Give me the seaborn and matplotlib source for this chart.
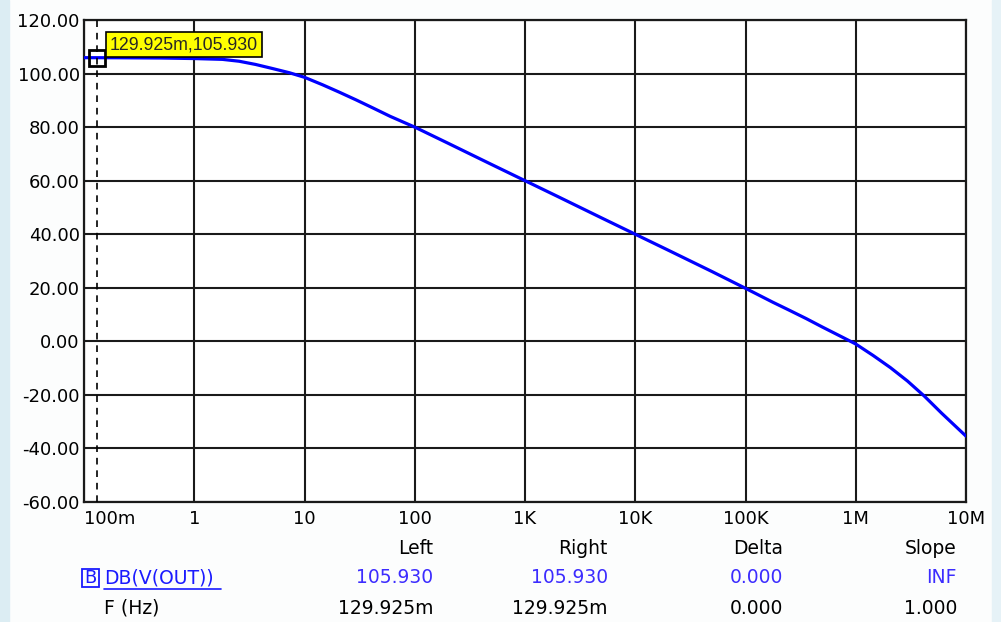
import numpy as np
import pandas as pd
import matplotlib
matplotlib.use("Agg")
import matplotlib.pyplot as plt
import seaborn as sns
from matplotlib.lines import Line2D
from matplotlib.patches import Rectangle

# ---- data ----
freq_hz = [0.1, 0.2, 0.5, 1, 1.8, 2.55, 3.6, 5.1, 7.3, 10, 14.6, 20.8, 29.6, 42, 60, 100,
           200, 500, 1e3, 2e3, 5e3, 1e4, 2e4, 5e4, 1e5, 1.77e5, 2.5e5, 3.55e5, 5e5, 7.2e5,
           1e6, 1.44e6, 2.06e6, 2.94e6, 4.2e6, 6e6, 1e7]
gain_db = [105.93, 105.9, 105.8, 105.6, 105.3, 104.6, 103.4, 101.9, 100.3, 98.6, 95.8, 93.0, 90.1, 87.1, 84.0, 80.0,
           74.0, 66.0, 60.0, 54.0, 46.0, 40.0, 34.0, 26.0, 19.8, 14.6, 11.6, 8.5, 5.3, 2.0,
           -1.0, -5.3, -9.8, -14.8, -20.5, -26.8, -35.4]
x_ticks = [0.1, 1, 10, 100, 1e3, 1e4, 1e5, 1e6, 1e7]
x_tick_labels = ["100m", "1", "10", "100", "1K", "10K", "100K", "1M", "10M"]
y_ticks = [-60, -40, -20, 0, 20, 40, 60, 80, 100, 120]
y_tick_labels = ["%.2f" % v for v in y_ticks]
cursor_f = 0.129925
cursor_db = 105.930
cursor_label = "129.925m,105.930"
table_headers = ["Left", "Right", "Delta", "Slope"]
row_db = ["105.930", "105.930", "0.000", "INF"]
row_f = ["129.925m", "129.925m", "0.000", "1.000"]
trace_name = "DB(V(OUT))"
x_name = "F (Hz)"

df = pd.DataFrame({"f": freq_hz, "db": gain_db})

sns.set_style("white")
plt.rcParams["font.family"] = ["DejaVu Sans"]

W, H = 1001, 622
fig = plt.figure(figsize=(W / 100, H / 100), dpi=100)
fig.patch.set_facecolor("#fcfdfd")

def fx(px):
    return px / W

def fy(py):
    return 1 - py / H

# side strips
fig.add_artist(Rectangle((0, 0), fx(9), 1, transform=fig.transFigure, color="#dcedf3", zorder=0))
fig.add_artist(Rectangle((fx(992), 0), 1 - fx(992), 1, transform=fig.transFigure, color="#e6f2f7", zorder=0))

ax = fig.add_axes([fx(84), fy(502), fx(966) - fx(84), (502 - 20) / H])
ax.set_facecolor("white")

sns.lineplot(data=df, x="f", y="db", ax=ax, color="#0000ff", linewidth=2.3,
             estimator=None, sort=False, zorder=3)

ax.set_xscale("log")
ax.set_xlim(0.1, 1e7)
ax.set_ylim(-60, 120)
ax.set_xticks(x_ticks)
ax.set_xticklabels(x_tick_labels)
ax.xaxis.set_minor_locator(matplotlib.ticker.NullLocator())
ax.set_yticks(y_ticks)
ax.set_yticklabels(y_tick_labels)
ax.tick_params(axis="both", length=0, labelsize=13, colors="black")
ax.tick_params(axis="y", pad=3)
ax.tick_params(axis="x", pad=6)
ax.get_xticklabels()[0].set_horizontalalignment("left")
ax.set_xlabel("")
ax.set_ylabel("")
ax.grid(True, color="#1a1a1a", linewidth=1.5)
for s in ax.spines.values():
    s.set_color("#1a1a1a")
    s.set_linewidth(1.6)
    s.set_visible(True)

# cursor
ax.axvline(cursor_f, color="black", linewidth=1.2, linestyle=(0, (4, 3.5)), zorder=4)
ax.plot([cursor_f], [cursor_db], marker="s", markersize=11.5, mfc="none", mec="black", mew=2, zorder=5)
ax.annotate(cursor_label, xy=(cursor_f, cursor_db), xytext=(13, 13), textcoords="offset pixels",
            ha="left", va="center", fontsize=12.8, family=["Liberation Sans"],
            bbox=dict(boxstyle="square,pad=0.22", fc="#ffff00", ec="black", lw=1.2), zorder=6)

# bottom table
col_right = [433, 608, 783, 957]
for xr, hdr, v1, v2 in zip(col_right, table_headers, row_db, row_f):
    fig.text(fx(xr), fy(549), hdr, ha="right", va="center", fontsize=13.5, color="black")
    fig.text(fx(xr), fy(577.5), v1, ha="right", va="center", fontsize=13.5, color="#3c2cff")
    fig.text(fx(xr), fy(609), v2, ha="right", va="center", fontsize=13.5, color="black")

fig.text(fx(90.5), fy(578), "B", ha="center", va="center", fontsize=13, color="#1a1aff")
fig.add_artist(Rectangle((fx(82), fy(587)), fx(99) - fx(82), (587 - 569) / H, transform=fig.transFigure,
                         fill=False, ec="#1a1aff", lw=1.3))
fig.text(fx(104), fy(577.5), trace_name, ha="left", va="center", fontsize=13.5, color="#1a1aff")
fig.add_artist(Line2D([fx(104), fx(221)], [fy(589), fy(589)], transform=fig.transFigure,
                      color="#1a1aff", lw=1.2))
fig.text(fx(104), fy(608), x_name, ha="left", va="center", fontsize=13.5, color="black")

fig.savefig("out.png", dpi=100, facecolor=fig.get_facecolor())
